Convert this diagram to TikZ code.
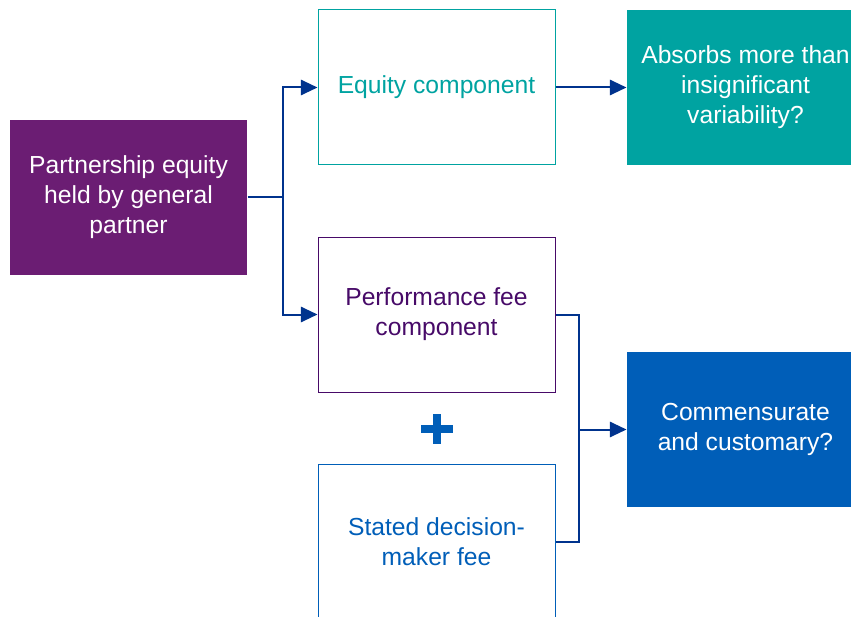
\documentclass[tikz,border=0pt]{standalone}
\usepackage{fontspec}
\setmainfont{Liberation Sans}
\usepackage{tikz}
\usetikzlibrary{arrows.meta}
\usepackage{xcolor}
\definecolor{gpPurple}{HTML}{6B1D73}
\definecolor{feePurple}{HTML}{470A68}
\definecolor{eqTeal}{HTML}{00A3A1}
\definecolor{midBlue}{HTML}{005EB8}
\definecolor{lineBlue}{HTML}{00338D}
\begin{document}
\begin{tikzpicture}[
  x=0.75pt,y=-0.75pt,
  every node/.style={font=\fontsize{18.5}{22.5}\selectfont,align=center},
  box/.style={rectangle,minimum width=177.75pt,minimum height=116.25pt,
    inner sep=0pt,line width=0.75pt},
  link/.style={draw=lineBlue,line width=1.5pt},
  flow/.style={link,-{Triangle[length=12.5pt,width=11.5pt]}}
]
  \clip (0,0) rectangle (851,617);

  % Source on the left.
  \node[box,fill=gpPurple,text=white] (gp) at (128.5,197.5)
    {Partnership equity\\held by general\\partner};

  % The two components.
  \node[box,draw=eqTeal,text=eqTeal] (equity) at (436.5,87.5)
    {Equity component};
  \node[box,draw=feePurple,text=feePurple] (perf) at (436.5,314.5)
    {Performance fee\\component};
  \node[box,draw=midBlue,text=midBlue] (stated) at (436.5,541.5)
    {Stated decision-\\maker fee};
  \fill[midBlue] (421,425) rectangle (453,433);
  \fill[midBlue] (433,414) rectangle (441,444);

  % Questions on the right.
  \node[box,fill=eqTeal,text=white] (absorbs) at (745.5,87.5)
    {Absorbs more than\\insignificant\\variability?};
  \node[box,fill=midBlue,text=white] (comm) at (745.5,429.5)
    {Commensurate\\and customary?};

  % Connectors.
  \coordinate (split) at (283,197.5);
  \coordinate (fork) at (579,429.5);
  \draw[link] (gp.east) -- (split);
  \draw[flow] (split) |- (equity.west);
  \draw[flow] (split) |- (perf.west);
  \draw[flow] (equity.east) -- (absorbs.west);
  \draw[link] (perf.east) -| (fork) |- (stated.east);
  \draw[flow] (fork) -- (comm.west);
\end{tikzpicture}
\end{document}
